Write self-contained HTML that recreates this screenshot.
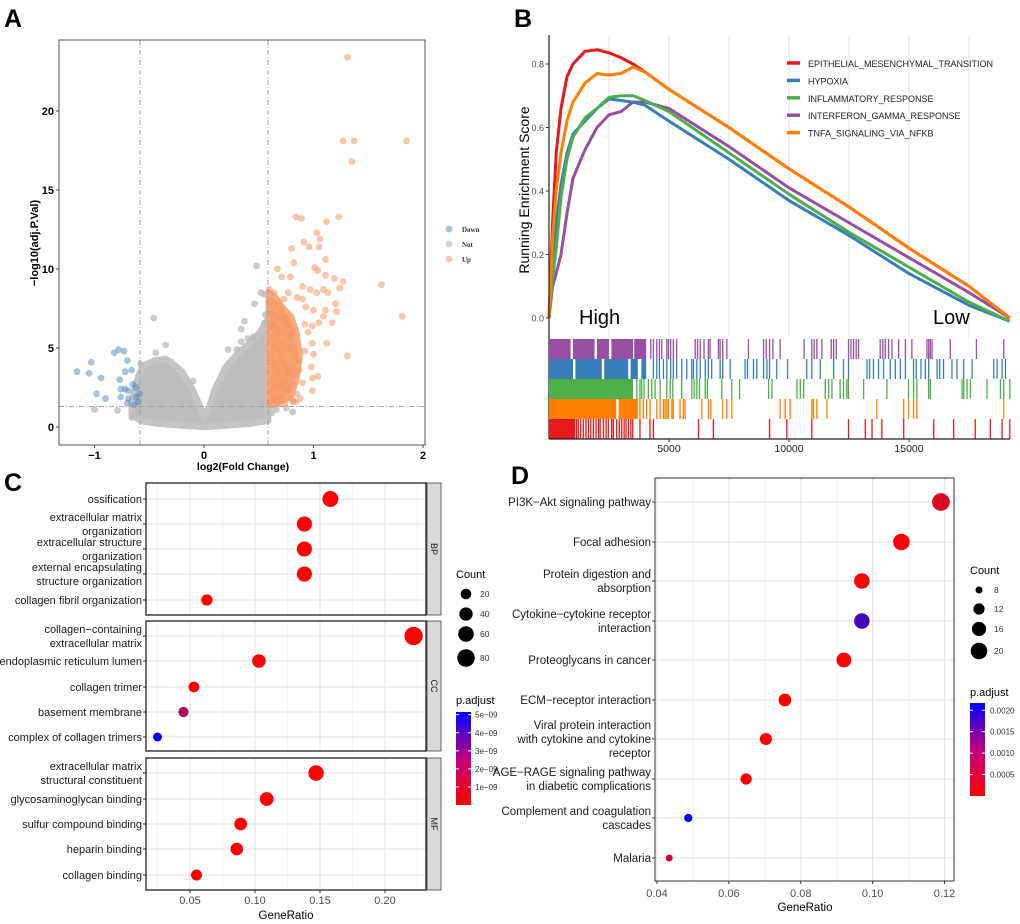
<!DOCTYPE html>
<html><head><meta charset="utf-8"><style>
html,body{margin:0;padding:0;background:#fff;}
svg{display:block;font-family:"Liberation Sans",Arial,sans-serif;}
</style></head><body>
<svg id="fig" width="1020" height="924" viewBox="0 0 1020 924" xmlns="http://www.w3.org/2000/svg"></svg>
<script>
// ===== Panel A data (volcano) =====
const upX=[1.31,1.27,1.37,1.85,1.35,0.84,0.89,1.12,1.23,1.03,1.06,0.91,0.96,1.05,0.80,1.11,0.82,0.67,1.01,1.04,0.71,0.79,1.11,1.19,1.27,1.62,0.90,0.97,1.09,1.24,0.60,0.64,1.03,1.13,0.77,0.73,0.85,0.90,1.20,0.68,0.93,1.00,1.11,1.21,1.81,1.09,0.72,0.99,1.05,1.17,0.92,0.81,0.95,1.12,0.99,1.31,1.00,0.92,0.98,1.04,0.99,0.99,0.90,0.88,0.81,0.65,
0.60,0.62,0.63,0.66,0.68,0.70,0.73,0.76,0.78,0.61,0.64,0.67,0.69,0.72,0.75,0.79,0.83,0.86,0.60,0.63,0.66,0.71,0.74,0.77,0.80,0.84,0.62,0.65,0.68,0.70,0.73,0.78,0.82,0.87,0.61,0.64,0.69,0.72,0.76,0.81,0.85,0.60,0.66,0.70,0.74,0.79,0.84,0.62,0.67,0.71,0.75,0.80];
const upY=[23.4,18.1,18.1,18.1,16.8,13.3,13.2,13.0,13.3,12.3,11.9,11.7,11.4,11.4,11.3,10.6,10.4,10.0,10.1,9.9,9.5,9.5,9.6,9.4,9.2,9.0,8.9,8.7,8.7,8.8,8.7,8.5,8.5,8.5,8.5,8.1,8.2,8.1,7.8,7.8,7.6,7.4,7.4,7.3,7.0,7.0,6.9,6.4,6.6,6.6,6.5,6.1,6.0,5.3,5.3,4.5,4.6,4.8,3.8,3.2,3.1,2.3,2.8,1.8,1.6,1.9,
7.9,7.2,6.5,7.0,6.2,6.8,6.0,6.5,5.8,5.6,5.2,5.9,4.8,5.3,4.9,5.1,4.6,4.2,4.4,4.0,3.7,4.3,3.9,3.5,3.8,3.3,3.0,2.7,3.2,2.6,2.9,2.4,2.7,3.6,2.2,1.9,2.0,1.8,2.3,1.7,2.1,1.6,1.5,1.7,1.5,1.8,1.6,6.3,5.5,7.4,6.9,5.7];
const downX=[-1.16,-1.03,-1.05,-0.94,-0.98,-0.90,-0.82,-0.78,-0.73,-0.70,-0.72,-0.66,-0.77,-0.65,-0.76,-0.72,-0.69,-0.62,-0.76,-0.69,-0.62,-0.59,-0.64,-0.70,-0.60];
const downY=[3.5,4.1,3.4,3.1,2.1,1.8,4.7,4.9,4.8,4.2,3.5,3.6,3.0,2.7,2.4,2.4,2.3,2.5,1.9,1.8,1.9,2.1,1.4,1.5,1.6];
const notX=[-1.00,-0.79,-0.46,0.48,0.52,0.46,0.37,0.34,0.34,-0.35,-0.44,0.75,0.81,-0.10,0.55,0.56,0.55,0.45,0.40,0.22,0.30,-0.58,-0.62,-0.66,0.62,0.66];
const notY=[1.1,1.05,6.9,10.2,8.5,7.8,6.7,6.2,5.4,5.2,4.7,1.2,0.95,2.9,8.4,7.1,6.6,5.7,5.6,4.9,4.9,4.0,0.9,0.6,0.9,1.1];
// dense grey cloud envelope (upper / lower bounds by log2FC)
const cloudX=[-0.66,-0.6,-0.55,-0.45,-0.35,-0.3,-0.2,-0.1,-0.03,0,0.05,0.1,0.2,0.3,0.4,0.5,0.585];
const cloudUpper=[1.6,3.2,3.9,4.2,4.3,4.1,3.5,2.3,1.2,0.6,1.3,2.4,3.8,4.6,5.2,5.9,6.8];
const cloudLower=[0.8,0.5,0.35,0.25,0.18,0.15,0.1,0.05,0.02,0,0.02,0.05,0.1,0.15,0.2,0.3,0.4];
const upMassX=[0.585,0.585,0.65,0.72,0.8,0.85,0.88,0.85,0.8,0.7,0.62];
const upMassY=[1.4,8.6,8.3,7.6,7.0,6.0,4.5,3.0,2.0,1.5,1.3];
const aXTicks=[-1,0,1,2], aYTicks=[0,5,10,15,20];

// ===== Panel B data (GSEA) =====
const esRanks=[0,150,300,500,750,1000,1500,2000,2500,3000,3500,4000,5000,7500,10000,12500,15000,17500,19200];
const esEMT=[0,0.30,0.52,0.66,0.76,0.80,0.84,0.845,0.835,0.82,0.80,0.775,0.72,0.60,0.47,0.35,0.22,0.10,0.0];
const esHYP=[0,0.15,0.30,0.42,0.52,0.58,0.62,0.66,0.69,0.685,0.68,0.67,0.62,0.50,0.37,0.26,0.14,0.04,-0.01];
const esINF=[0,0.12,0.22,0.38,0.50,0.57,0.63,0.66,0.695,0.70,0.70,0.685,0.65,0.52,0.39,0.27,0.16,0.05,-0.01];
const esIFN=[0,0.10,0.14,0.20,0.33,0.44,0.53,0.60,0.64,0.65,0.68,0.68,0.66,0.54,0.41,0.30,0.19,0.08,0.0];
const esTNF=[0,0.25,0.40,0.52,0.62,0.68,0.74,0.77,0.765,0.77,0.79,0.775,0.72,0.60,0.47,0.35,0.22,0.10,0.0];
const setNames=["EPITHELIAL_MESENCHYMAL_TRANSITION","HYPOXIA","INFLAMMATORY_RESPONSE","INTERFERON_GAMMA_RESPONSE","TNFA_SIGNALING_VIA_NFKB"];
const blocksIFN=[[0,900],[1000,1900],[2000,2500],[2600,3500],[3550,4050]];
const hitsIFN=[4240,4350,4490,4600,4700,4910,4980,5070,5180,5320,6090,6190,6300,6460,6640,6710,7060,7130,7240,7410,8310,8940,9050,9190,9330,9630,10630,10950,11050,11160,11370,11760,11860,11970,12480,12580,12690,12800,12900,13800,13910,14010,14150,14290,14570,14850,15120,15750,15820,15890,15960,16720,17810,18950];
const blocksHYP=[[0,1000],[1100,2200],[2300,3300],[3400,3700],[3850,4050]];
const hitsHYP=[4350,4490,4600,4770,4910,5070,5180,5320,5530,5740,5950,6020,6160,6300,6510,6640,6780,7130,7240,7550,8170,8270,8520,8660,8940,9080,9190,9490,9940,10740,10950,11300,11860,12270,12480,13250,13360,13520,13730,13940,14220,14430,14640,14850,15190,15300,15500,15680,15820,16170,16280,16440,16790,17000,17280,17630,18530,18670,18880,19020];
const blocksINF=[[0,3500]];
const hitsINF=[3660,3790,3860,3960,4140,4280,4420,4630,4910,5050,5160,5530,5950,6050,6160,6270,6510,6600,7200,7620,7940,9150,9290,10330,10470,10610,11510,11650,11790,12130,12270,12410,12480,13110,14080,14980,15190,15330,15820,15890,17210,17280,17420,17560,18250,18810,18950,19200];
const blocksTNF=[[0,2800],[2900,3700]];
const hitsTNF=[3790,3930,4070,4210,4490,4630,4770,4840,4910,4980,5120,5180,5460,5600,5670,6370,6640,6740,7240,7410,7620,9630,9840,10050,10950,11020,11160,11580,13660,14780,14980,15190,15330,18950];
const blocksEMT=[[0,1100]];
const hitsEMT=[1150,1220,1320,1430,1540,1640,1740,1850,1960,2060,2130,2270,2380,2470,2610,2680,2820,2930,3030,3130,3210,3310,3410,3490,3790,4210,4350,6230,6850,9190,9910,10950,12480,13180,13460,13870,14780,16030,16860,17760,18390,18880,19200];
const bXTicks=[5000,10000,15000], bYTicks=[0,0.2,0.4,0.6,0.8];

// ===== Panel C data (GO) =====
const goTerms=[["ossification"],["extracellular matrix","organization"],["extracellular structure","organization"],["external encapsulating","structure organization"],["collagen fibril organization"],
["collagen−containing","extracellular matrix"],["endoplasmic reticulum lumen"],["collagen trimer"],["basement membrane"],["complex of collagen trimers"],
["extracellular matrix","structural constituent"],["glycosaminoglycan binding"],["sulfur compound binding"],["heparin binding"],["collagen binding"]];
const goOnt=["BP","BP","BP","BP","BP","CC","CC","CC","CC","CC","MF","MF","MF","MF","MF"];
const goRatio=[0.158,0.138,0.138,0.138,0.063,0.222,0.103,0.053,0.045,0.025,0.147,0.109,0.089,0.086,0.055];
const goCount=[63,55,55,55,25,88,41,21,18,10,58,43,35,34,22];
const goPadj=[1e-12,1e-12,1e-12,1e-12,2e-11,1e-13,1e-12,3e-11,1.7e-9,5.1e-9,1e-12,1e-12,1e-12,1e-12,5e-11];
const cXTicks=[0.05,0.10,0.15,0.20], cCountLegend=[20,40,60,80], cPadjTicks=[1e-9,2e-9,3e-9,4e-9,5e-9];

// ===== Panel D data (KEGG) =====
const kgTerms=[["PI3K−Akt signaling pathway"],["Focal adhesion"],["Protein digestion and","absorption"],["Cytokine−cytokine receptor","interaction"],["Proteoglycans in cancer"],["ECM−receptor interaction"],["Viral protein interaction","with cytokine and cytokine","receptor"],["AGE−RAGE signaling pathway","in diabetic complications"],["Complement and coagulation","cascades"],["Malaria"]];
const kgRatio=[0.119,0.108,0.097,0.097,0.092,0.0756,0.0703,0.0648,0.0487,0.0434];
const kgCount=[22,20,18,18,17,14,13,12,9,8];
const kgPadj=[0.0003,0.00002,0.00002,0.0016,0.00003,0.00002,0.00002,0.00005,0.00217,0.0004];
const dXTicks=[0.04,0.06,0.08,0.10,0.12], dCountLegend=[8,12,16,20], dPadjTicks=[0.0005,0.0010,0.0015,0.0020];

const NS="http://www.w3.org/2000/svg";
const svg=document.getElementById("fig");
function mk(tag,attrs,parent){const e=document.createElementNS(NS,tag);for(const k in attrs)e.setAttribute(k,attrs[k]);(parent||svg).appendChild(e);return e;}
function txt(s,attrs,parent){const e=mk("text",attrs,parent);e.textContent=s;return e;}
function grp(name){const g=mk("g",{});


return g;}
function padjColor(t){t=Math.max(0,Math.min(1,t));const r=Math.round(255*(1-t)),b=Math.round(255*t),g=Math.round(10*Math.sin(Math.PI*t));return `rgb(${r},${g},${b})`;}

// ---------- Panel A ----------
(function(){
const g=grp("volcano-panel-a");
const L=59,R=425,T=40,B=445;
const sx=v=>204+v*109.5, sy=v=>427-v*15.8;
let e=txt("A",{x:4,y:27,"font-size":25,"font-weight":"bold"},g);


const clip=mk("clipPath",{id:"clipA"},g);mk("rect",{x:L,y:T,width:R-L,height:B-T},clip);
const pg=mk("g",{"clip-path":"url(#clipA)"},g);
// grey cloud
let pts=cloudX.map((x,i)=>sx(x)+","+sy(cloudUpper[i]));
for(let i=cloudX.length-1;i>=0;i--)pts.push(sx(cloudX[i])+","+sy(cloudLower[i]));
e=mk("polygon",{points:pts.join(" "),fill:"#bdbdbd",stroke:"#c4c4c4","stroke-width":6.6,"stroke-linejoin":"round"},pg);


// up mass
e=mk("polygon",{points:upMassX.map((x,i)=>sx(x)+","+sy(upMassY[i])).join(" "),fill:"#f5a06e",stroke:"#f6ab80","stroke-width":5,"stroke-linejoin":"round"},pg);


notX.forEach((x,i)=>{const c=mk("circle",{cx:sx(x),cy:sy(notY[i]),r:3.4,fill:"rgba(185,185,185,0.75)"},pg);

});
upX.forEach((x,i)=>{const c=mk("circle",{cx:sx(x),cy:sy(upY[i]),r:3.4,fill:"rgba(246,150,100,0.55)"},pg);

});
downX.forEach((x,i)=>{const c=mk("circle",{cx:sx(x),cy:sy(downY[i]),r:3.4,fill:"rgba(80,135,190,0.5)"},pg);

});
// threshold lines
[-0.585,0.585].forEach(v=>{const l=mk("line",{x1:sx(v),x2:sx(v),y1:T,y2:B,stroke:"#999","stroke-dasharray":"5,2,1,2","stroke-width":0.9},g);

});
e=mk("line",{x1:L,x2:R,y1:sy(1.3),y2:sy(1.3),stroke:"#999","stroke-dasharray":"5,2,1,2","stroke-width":0.9},g);


e=mk("rect",{x:L,y:T,width:R-L,height:B-T,fill:"none",stroke:"#444","stroke-width":0.9},g);


aXTicks.forEach(v=>{mk("line",{x1:sx(v),x2:sx(v),y1:B,y2:B+3,stroke:"#444"},g);
const t=txt(String(v).replace("-","−"),{x:sx(v),y:B+14,"font-size":11,"font-weight":"bold","text-anchor":"middle"},g);

});
aYTicks.forEach(v=>{mk("line",{x1:L-3,x2:L,y1:sy(v),y2:sy(v),stroke:"#444"},g);
const t=txt(String(v),{x:L-5,y:sy(v)+4,"font-size":11,"font-weight":"bold","text-anchor":"end"},g);

});
e=txt("−log10(adj.P.Val)",{x:0,y:0,"font-size":11,"font-weight":"bold","text-anchor":"middle",transform:"translate(38,243) rotate(-90)"},g);


e=txt("log2(Fold Change)",{x:243,y:470,"font-size":10.5,"font-weight":"bold","text-anchor":"middle"},g);


[["Down","rgba(80,135,190,0.5)"],["Not","rgba(185,185,185,0.6)"],["Up","rgba(246,150,100,0.55)"]].forEach((d,i)=>{
const c=mk("circle",{cx:449,cy:229+i*15,r:3.4,fill:d[1]},g);


const t=txt(d[0],{x:462,y:232+i*15,"font-size":7,"font-weight":"bold","font-family":"Liberation Serif, serif",fill:"#333"},g);

});
})();

// ---------- Panel B ----------
(function(){
const g=grp("gsea-panel-b");
const L=549,R=1010,T=35,B=337;
const sx=v=>L+v*0.024, sy=v=>318-v*317.5;
let e=txt("B",{x:514,y:27,"font-size":25,"font-weight":"bold"},g);


for(let r=2500;r<=17500;r+=2500){const l=mk("line",{x1:sx(r),x2:sx(r),y1:T,y2:B,stroke:"#e6e6e6","stroke-width":1.2},g);

}
const cols=["#e41a1c","#377eb8","#4daf4a","#984ea3","#ff7f00"];
const series=[esEMT,esHYP,esINF,esIFN,esTNF];
[3,1,2,0,4].forEach(k=>{const p=mk("polyline",{points:esRanks.map((r,i)=>sx(r)+","+sy(series[k][i])).join(" "),fill:"none",stroke:cols[k],"stroke-width":3,"stroke-linejoin":"round"},g);

});
e=mk("line",{x1:L,x2:L,y1:T,y2:439,stroke:"#222","stroke-width":1.2},g);


bYTicks.forEach(v=>{mk("line",{x1:L-3,x2:L,y1:sy(v),y2:sy(v),stroke:"#333"},g);
const t=txt(v.toFixed(1),{x:L-5,y:sy(v)+3.5,"font-size":9,fill:"#4d4d4d","text-anchor":"end"},g);

});
e=txt("Running Enrichment Score",{x:0,y:0,"font-size":14,"text-anchor":"middle",transform:"translate(529,190) rotate(-90)"},g);


e=txt("High",{x:579,y:324,"font-size":20},g);


e=txt("Low",{x:933,y:324,"font-size":20},g);


setNames.forEach((n,i)=>{const l=mk("line",{x1:787,x2:800,y1:63+i*17.4,y2:63+i*17.4,stroke:cols[i],"stroke-width":3.5},g);


const t=txt(n,{x:808,y:67+i*17.4,"font-size":9,fill:"#222"},g);

});
// rug
const rows=[[blocksIFN,hitsIFN,3],[blocksHYP,hitsHYP,1],[blocksINF,hitsINF,2],[blocksTNF,hitsTNF,4],[blocksEMT,hitsEMT,0]];
rows.forEach((rw,i)=>{const y0=339+i*20;
rw[0].forEach(b=>{const r=mk("rect",{x:sx(b[0]),y:y0,width:sx(b[1])-sx(b[0]),height:20,fill:cols[rw[2]]},g);

});
rw[1].forEach(h=>{const l=mk("line",{x1:sx(h),x2:sx(h),y1:y0,y2:y0+20,stroke:cols[rw[2]],"stroke-width":1.3},g);

});});
e=mk("line",{x1:L,x2:R,y1:439,y2:439,stroke:"#222","stroke-width":1.2},g);


bXTicks.forEach(v=>{mk("line",{x1:sx(v),x2:sx(v),y1:439,y2:442,stroke:"#333"},g);
const t=txt(String(v),{x:sx(v),y:452,"font-size":10.5,"text-anchor":"middle",fill:"#222"},g);

});
})();

// ---------- Panel C ----------
(function(){
const g=grp("go-dotplot-panel-c");
const L=146,R=426;
const facets=[["BP",483,615],["CC",621,751],["MF",758,890]];
const rowY=[499,524,549,574,600,636,661,687,712,737,773,799,824,849,875];
const sx=v=>125+v*1300;
let e=txt("C",{x:4,y:491,"font-size":25,"font-weight":"bold"},g);


facets.forEach(f=>{
const r=mk("rect",{x:L,y:f[1],width:R-L,height:f[2]-f[1],fill:"#fff"},g);


[0.025,0.075,0.125,0.175,0.225].forEach(v=>mk("line",{x1:sx(v),x2:sx(v),y1:f[1],y2:f[2],stroke:"#f3f3f3","stroke-width":1},g));
cXTicks.forEach(v=>mk("line",{x1:sx(v),x2:sx(v),y1:f[1],y2:f[2],stroke:"#e6e6e6","stroke-width":1.2},g));
rowY.forEach((y,i)=>{if(goOnt[i]===f[0])mk("line",{x1:L,x2:R,y1:y,y2:y,stroke:"#e6e6e6","stroke-width":1.2},g);});
const s=mk("rect",{x:427,y:f[1],width:14,height:f[2]-f[1],fill:"#d9d9d9",stroke:"#444","stroke-width":0.8},g);


const t=txt(f[0],{x:0,y:0,"font-size":9,fill:"#1a1a1a","text-anchor":"middle",transform:`translate(431,${(f[1]+f[2])/2}) rotate(90)`},g);

});
goRatio.forEach((v,i)=>{const c=mk("circle",{cx:sx(v),cy:rowY[i],r:Math.sqrt(0.78*goCount[i]+9.4)+0.3,fill:padjColor(goPadj[i]/5.15e-9)},g);


const n=goTerms[i].length;
const t=txt("",{x:142,y:rowY[i]+4-(n-1)*7,"font-size":11,fill:"#1a1a1a","text-anchor":"end"},g);
goTerms[i].forEach((s,j)=>{const ts=mk("tspan",{x:142,dy:j?14:0},t);ts.textContent=s;});


mk("line",{x1:143,x2:146,y1:rowY[i],y2:rowY[i],stroke:"#333"},g);});
facets.forEach(f=>{const r=mk("rect",{x:L,y:f[1],width:R-L,height:f[2]-f[1],fill:"none",stroke:"#222","stroke-width":1.3},g);

});
cXTicks.forEach(v=>{mk("line",{x1:sx(v),x2:sx(v),y1:890,y2:893,stroke:"#333"},g);
const t=txt(v.toFixed(2),{x:sx(v),y:904,"font-size":11,fill:"#4d4d4d","text-anchor":"middle"},g);

});
e=txt("GeneRatio",{x:286,y:919,"font-size":11.5,"text-anchor":"middle"},g);


e=txt("Count",{x:456,y:578,"font-size":11},g);


const ly=[594,614,634,658];
cCountLegend.forEach((c,i)=>{const k=mk("circle",{cx:466,cy:ly[i],r:Math.sqrt(0.78*c+9.4)+0.3,fill:"#000"},g);


const t=txt(String(c),{x:480,y:ly[i]+3,"font-size":8.5,fill:"#333"},g);

});
e=txt("p.adjust",{x:456,y:704,"font-size":11},g);


const gr=mk("linearGradient",{id:"gradC",x1:0,y1:1,x2:0,y2:0},g);
mk("stop",{offset:0,"stop-color":"#ff0000"},gr);mk("stop",{offset:0.5,"stop-color":"#c0007f"},gr);mk("stop",{offset:1,"stop-color":"#0000ff"},gr);
e=mk("rect",{x:456,y:712,width:15,height:93,fill:"url(#gradC)"},g);


cPadjTicks.forEach(v=>{const y=805-v/5.15e-9*93;
mk("line",{x1:456,x2:459,y1:y,y2:y,stroke:"#fff"},g);mk("line",{x1:468,x2:471,y1:y,y2:y,stroke:"#fff"},g);
const t=txt(v.toExponential(0).replace("e-","e−0"),{x:475,y:y+3,"font-size":8,fill:"#333"},g);

});
})();

// ---------- Panel D ----------
(function(){
const g=grp("kegg-dotplot-panel-d");
const L=655,R=954,T=478,B=881;
const sx=v=>657+(v-0.04)*3594;
const rowY=[502,542,581,621,660,700,739,779,818,858];
let e=txt("D",{x:511,y:484,"font-size":25,"font-weight":"bold"},g);


[0.05,0.07,0.09,0.11].forEach(v=>mk("line",{x1:sx(v),x2:sx(v),y1:T,y2:B,stroke:"#f3f3f3"},g));
dXTicks.forEach(v=>mk("line",{x1:sx(v),x2:sx(v),y1:T,y2:B,stroke:"#e6e6e6","stroke-width":1.2},g));
rowY.forEach(y=>mk("line",{x1:L,x2:R,y1:y,y2:y,stroke:"#e6e6e6","stroke-width":1.2},g));
kgRatio.forEach((v,i)=>{const c=mk("circle",{cx:sx(v),cy:rowY[i],r:Math.sqrt(Math.max(4.73*kgCount[i]-25.6,9)),fill:padjColor(kgPadj[i]/0.00217)},g);


const n=kgTerms[i].length;
const t=txt("",{x:651,y:rowY[i]+4-(n-1)*7,"font-size":11.5,fill:"#1a1a1a","text-anchor":"end"},g);
kgTerms[i].forEach((s,j)=>{const ts=mk("tspan",{x:651,dy:j?14:0},t);ts.textContent=s;});


mk("line",{x1:652,x2:655,y1:rowY[i],y2:rowY[i],stroke:"#333"},g);});
e=mk("rect",{x:L,y:T,width:R-L,height:B-T,fill:"none",stroke:"#333","stroke-width":1},g);


dXTicks.forEach(v=>{mk("line",{x1:sx(v),x2:sx(v),y1:B,y2:B+3,stroke:"#333"},g);
const t=txt(v.toFixed(2),{x:sx(v),y:897,"font-size":11,fill:"#4d4d4d","text-anchor":"middle"},g);

});
e=txt("GeneRatio",{x:805,y:911,"font-size":11.5,"text-anchor":"middle"},g);


e=txt("Count",{x:970,y:574,"font-size":11},g);


const ly=[590,609,629,651];
dCountLegend.forEach((c,i)=>{const k=mk("circle",{cx:979,cy:ly[i],r:Math.sqrt(4.73*c-25.6),fill:"#000"},g);


const t=txt(String(c),{x:994,y:ly[i]+3,"font-size":8.5,fill:"#333"},g);

});
e=txt("p.adjust",{x:970,y:696,"font-size":11},g);


const gr=mk("linearGradient",{id:"gradD",x1:0,y1:1,x2:0,y2:0},g);
mk("stop",{offset:0,"stop-color":"#ff0000"},gr);mk("stop",{offset:0.5,"stop-color":"#c0007f"},gr);mk("stop",{offset:1,"stop-color":"#0000ff"},gr);
e=mk("rect",{x:970,y:703,width:15,height:93,fill:"url(#gradD)"},g);


dPadjTicks.forEach(v=>{const y=796-v/0.00217*93;
mk("line",{x1:970,x2:973,y1:y,y2:y,stroke:"#fff"},g);mk("line",{x1:982,x2:985,y1:y,y2:y,stroke:"#fff"},g);
const t=txt(v.toFixed(4),{x:990,y:y+3,"font-size":8,fill:"#333"},g);

});
})();
</script>
</body></html>
